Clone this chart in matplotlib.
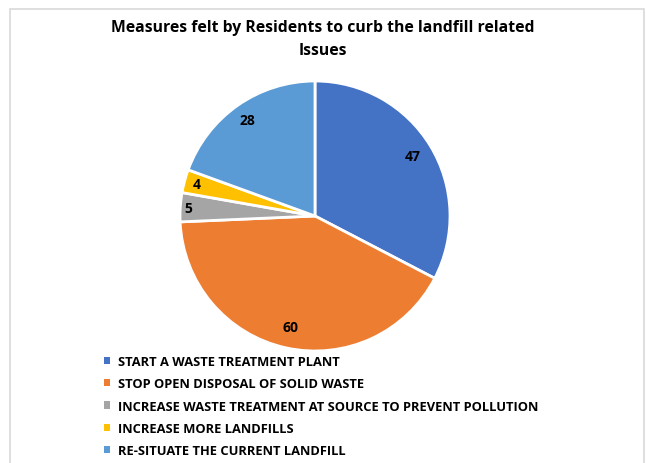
import numpy as np
import matplotlib.pyplot as plt
from matplotlib.patches import Rectangle

plt.rcParams["font.family"] = ["Open Sans", "DejaVu Sans"]

MEASURES = [
    "START A WASTE TREATMENT PLANT",
    "STOP OPEN DISPOSAL OF SOLID WASTE",
    "INCREASE WASTE TREATMENT AT SOURCE TO PREVENT POLLUTION",
    "INCREASE MORE LANDFILLS",
    "RE-SITUATE THE CURRENT LANDFILL",
]
RESPONSES = [47, 60, 5, 4, 28]
COLORS = ["#4472C4", "#ED7D31", "#A5A5A5", "#FFC000", "#5B9BD5"]
# how far out each value label sits (fraction of radius); thin slices go further out
LABEL_DIST = [0.85, 0.84, 0.94, 0.91, 0.87]

W, H = 646, 464
fig = plt.figure(figsize=(W / 100, H / 100), dpi=100)

# chart-area frame
fig.patches.append(Rectangle((10 / W, -0.05), 634 / W, 1.05 - 10 / H,
                             transform=fig.transFigure, fill=False,
                             edgecolor="#D9D9D9", linewidth=1.2))

fig.text(0.5, 1 - 28 / H, "Measures felt by Residents to curb the landfill related",
         ha="center", va="center", fontsize=11.3, fontweight="bold")
fig.text(0.5, 1 - 51 / H, "Issues", ha="center", va="center",
         fontsize=11.3, fontweight="bold")

cx, cy, r = 315, 217, 135
ax = fig.add_axes([(cx - r) / W, 1 - (cy + r) / H, 2 * r / W, 2 * r / H])
wedges, _ = ax.pie(
    RESPONSES,
    colors=COLORS,
    startangle=90,
    counterclock=False,
    wedgeprops=dict(edgecolor="white", linewidth=2),
)
for w, v, d in zip(wedges, RESPONSES, LABEL_DIST):
    mid = np.deg2rad((w.theta1 + w.theta2) / 2)
    ax.text(d * np.cos(mid), d * np.sin(mid), str(v), ha="center", va="center",
            fontsize=10, fontweight="bold")
ax.set_xlim(-1, 1)
ax.set_ylim(-1, 1)
ax.set_aspect("equal")

leg = fig.legend(
    wedges, MEASURES,
    loc="upper left",
    bbox_to_anchor=(104 / W, 1 - 356 / H),
    frameon=False,
    handlelength=0.5,
    handleheight=0.5,
    handletextpad=0.6,
    labelspacing=0.72,
    prop=dict(size=9.3, weight="bold"),
    borderaxespad=0,
    borderpad=0,
)
for h in leg.legend_handles:
    h.set_edgecolor("none")

fig.savefig("out.png", dpi=100)
